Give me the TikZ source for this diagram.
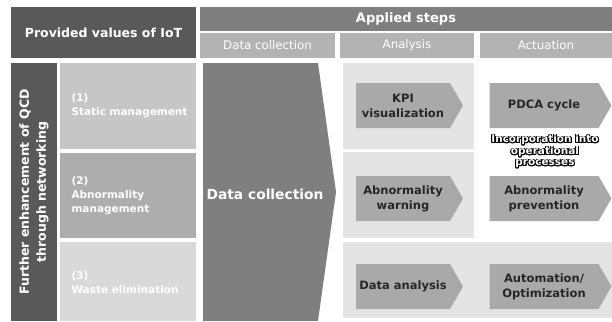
\documentclass[tikz,border=0pt]{standalone}
\usepackage{fontspec}
\setmainfont{DejaVu Sans}
\usepackage{contour}
\contourlength{0.9pt}
\usetikzlibrary{shapes.symbols}
\definecolor{darkgrey}{HTML}{595959}
\definecolor{midgrey}{HTML}{7F7F7F}
\definecolor{subgrey}{HTML}{B3B3B3}
\definecolor{rowone}{HTML}{C6C6C6}
\definecolor{rowtwo}{HTML}{ADADAD}
\definecolor{rowthree}{HTML}{D9D9D9}
\definecolor{stagebg}{HTML}{E4E4E4}
\definecolor{stepgrey}{HTML}{A9A9A9}
\definecolor{steptext}{HTML}{262626}
\begin{document}
\begin{tikzpicture}[x=1pt,y=-1pt,
                    box/.style={inner sep=0pt,minimum width=#1},
                    headbox/.style={box=#1,fill=darkgrey,text=white,font=\fontsize{12.5}{14}\bfseries},
                    subhead/.style={box=#1,fill=subgrey,text=white,minimum height=25pt,font=\fontsize{11.8}{14}\selectfont},
                    rowbox/.style={box=136pt,fill=#1,text=white,minimum height=86pt},
                    rowtext/.style={anchor=west,text=white,align=left,font=\fontsize{10.5}{14}\bfseries},
                    stagebox/.style={box=#1,fill=stagebg},
                    stepbox/.style={shape=signal,signal to=east,signal pointer angle=120,
                                    inner sep=0pt,minimum width=#1,minimum height=45pt,
                                    fill=stepgrey,text=steptext,align=center,
                                    font=\fontsize{11.5}{15}\bfseries}]
\useasboundingbox (0,0) rectangle (612,321);
% header
\node[headbox=185pt,minimum height=51pt] (iot) at (103.5,32.5) {Provided values of IoT};
\node[box=412pt,fill=midgrey,text=white,minimum height=24pt,font=\fontsize{13}{14}\bfseries] (steps) at (406,19) {Applied steps};
\node[subhead=135pt] (hcol) at (267.5,45.5) {Data collection};
\node[subhead=134pt] (hana) at (407,45.5) {Analysis};
\node[subhead=132pt] (hact) at (546,45.5) {Actuation};
% values of IoT
\node[box=46pt,fill=darkgrey,minimum height=258pt] (side) at (34,192) {};
\node[rotate=90,text=white,align=center,font=\fontsize{12.5}{17}\bfseries] (sidetext) at (side.center) {Further enhancement of QCD\\through networking};
\node[rowbox=rowone] (r1) at (128,106) {};
\node[rowbox=rowtwo,minimum height=85pt] (r2) at (128,195.5) {};
\node[rowbox=rowthree,minimum height=79pt] (r3) at (128,281.5) {};
\node[rowtext] (t1) at (68,106) {(1)\\Static management};
\node[rowtext] (t2) at (68,195.5) {(2)\\Abnormality\\management};
\node[rowtext] (t3) at (68,283) {(3)\\Waste elimination};
% data collection
\fill[midgrey] (203,63) -- (318,63) -- (336,192) -- (318,321) -- (203,321) -- cycle;
\node[text=white,font=\fontsize{13.8}{16}\bfseries] (dc) at (265,194) {Data collection};
% analysis and actuation
\node[stagebox=131pt,minimum height=86pt] (a1) at (408.5,106) {};
\node[stagebox=131pt,minimum height=86pt] (a2) at (408.5,195) {};
\node[stagebox=269pt,minimum height=76pt] (a3) at (477.5,280) {};
\node[stepbox=107pt] (kpi) at (403,105.5) {KPI\\visualization};
\node[stepbox=107pt] (warn) at (403,198.5) {Abnormality\\warning};
\node[stepbox=107pt] (ana) at (403,286.5) {Data analysis};
\node[stepbox=122pt] (pdca) at (544,105.5) {PDCA cycle};
\node[stepbox=122pt] (prev) at (544,198.5) {Abnormality\\prevention};
\node[stepbox=122pt] (auto) at (544,286.5) {Automation/\\Optimization};
\node[text=white,align=center,font=\fontsize{10.5}{11}\bfseries] (incorp) at (545,152)
  {\contour{black}{Incorporation into}\\\contour{black}{operational}\\\contour{black}{processes}};
\end{tikzpicture}
\end{document}
